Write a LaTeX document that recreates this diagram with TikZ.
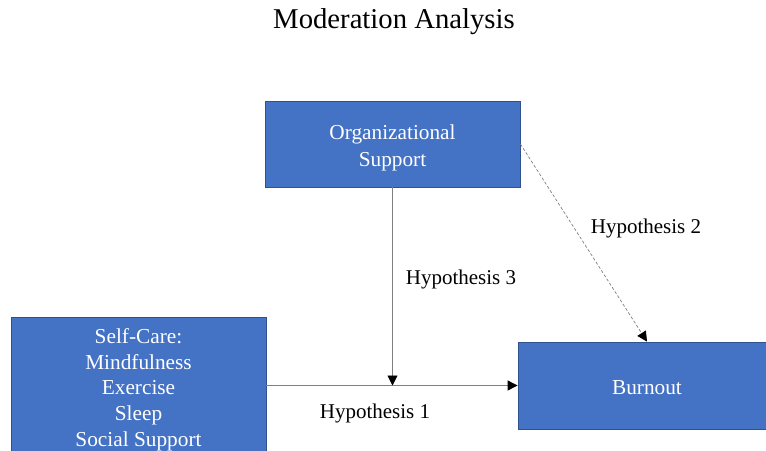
\documentclass[tikz,border=0pt]{standalone}
\usepackage{fontspec}
\setmainfont{Liberation Serif}
\usetikzlibrary{arrows.meta}

\definecolor{boxblue}{HTML}{4472C4}
\definecolor{boxedge}{HTML}{2F528F}
\definecolor{linegray}{HTML}{7F7F7F}

% invisible strut on the first line to push box text down a little
\newcommand{\boxstrut}[1]{\rule{0pt}{#1}}

\tikzset{
  varbox/.style={draw=boxedge, line width=0.8pt, fill=boxblue, text=white,
    align=center, inner sep=0pt, font=\fontsize{21.3}{25.8}\selectfont},
  link/.style={draw=linegray, line width=0.9pt,
    -{Triangle[length=10pt,width=10pt,color=black]}},
  hyplabel/.style={font=\fontsize{21}{25}\selectfont}
}

\begin{document}
\begin{tikzpicture}[x=1pt,y=-1pt]
  \clip (0,0) rectangle (766,450);
  \useasboundingbox (0,0) rectangle (766,450);
  \node[font=\fontsize{28.7}{34}\selectfont] (title) at (394,22) {Moderation Analysis};
  % variables
  \node[varbox, font=\fontsize{21.3}{27}\selectfont, minimum width=255pt, minimum height=86pt] (orgsupport) at (392.5,144) {\boxstrut{22pt}Organizational\\Support};
  \node[varbox, minimum width=255pt, minimum height=136pt] (selfcare) at (138.5,385) {\boxstrut{24.5pt}Self-Care:\\Mindfulness\\Exercise\\Sleep\\Social Support};
  \node[varbox, minimum width=258pt, minimum height=87pt] (burnout) at (647,385.5) {\boxstrut{19pt}Burnout};
  \coordinate (meet) at (orgsupport.south |- burnout.west);
  % paths
  \draw[link] (selfcare.east |- burnout.west) -- (burnout.west);
  \draw[link] (orgsupport.south) -- (meet);
  \draw[link, densely dashed, line width=0.7pt] (orgsupport.east) -- (burnout.north);
  \node[hyplabel] (hyp1) at (375,413) {Hypothesis 1};
  \node[hyplabel] (hyp2) at (646,228) {Hypothesis 2};
  \node[hyplabel] (hyp3) at (461,279) {Hypothesis 3};
\end{tikzpicture}
\end{document}
